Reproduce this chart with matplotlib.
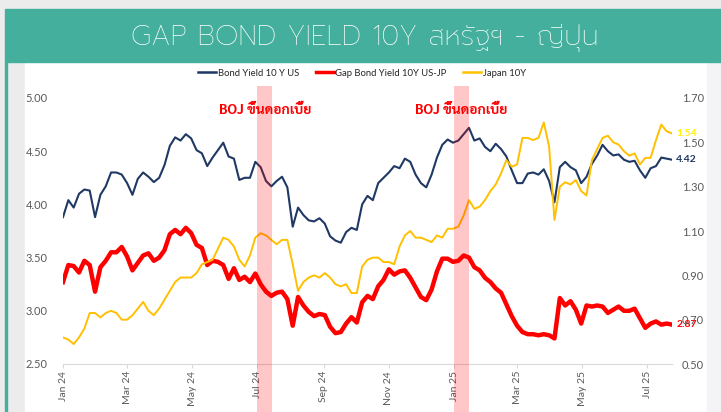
import matplotlib
matplotlib.use("Agg")
import matplotlib.pyplot as plt
import matplotlib.dates as mdates
from matplotlib.patches import Rectangle
from matplotlib.lines import Line2D
import pandas as pd

# sample dates, every 5 days from Jan 2024
dates = pd.date_range("2024-01-01", periods=115, freq="5D")

us10y = [3.88, 4.04, 3.97, 4.10, 4.14, 4.13, 3.88, 4.09, 4.17, 4.30,
         4.30, 4.28, 4.20, 4.09, 4.24, 4.30, 4.26, 4.21, 4.25, 4.37,
         4.55, 4.63, 4.60, 4.66, 4.62, 4.51, 4.48, 4.36, 4.44, 4.51,
         4.58, 4.45, 4.43, 4.23, 4.25, 4.25, 4.40, 4.35, 4.22, 4.17,
         4.22, 4.26, 4.16, 3.79, 3.97, 3.90, 3.85, 3.84, 3.87, 3.82,
         3.70, 3.66, 3.64, 3.74, 3.78, 3.76, 4.00, 4.08, 4.04, 4.20,
         4.25, 4.30, 4.36, 4.34, 4.43, 4.40, 4.28, 4.20, 4.16, 4.28,
         4.44, 4.56, 4.61, 4.58, 4.60, 4.66, 4.72, 4.60, 4.62, 4.54,
         4.50, 4.57, 4.52, 4.45, 4.32, 4.20, 4.20, 4.29, 4.30, 4.28,
         4.33, 4.22, 4.02, 4.35, 4.40, 4.35, 4.32, 4.20, 4.26, 4.38,
         4.46, 4.56, 4.50, 4.46, 4.47, 4.42, 4.40, 4.41, 4.32, 4.25,
         4.34, 4.36, 4.44, 4.43, 4.42]

jp10y = [0.62, 0.61, 0.59, 0.62, 0.66, 0.73, 0.73, 0.71, 0.73, 0.74,
         0.73, 0.70, 0.70, 0.72, 0.75, 0.78, 0.74, 0.72, 0.75, 0.79,
         0.83, 0.87, 0.89, 0.89, 0.89, 0.91, 0.95, 0.96, 0.97, 1.02,
         1.07, 1.06, 1.03, 0.97, 0.94, 0.99, 1.07, 1.09, 1.08, 1.06,
         1.04, 1.06, 1.06, 0.95, 0.83, 0.87, 0.89, 0.90, 0.89, 0.91,
         0.89, 0.86, 0.85, 0.86, 0.82, 0.82, 0.94, 0.97, 0.98, 0.98,
         0.96, 0.96, 0.95, 1.03, 1.08, 1.10, 1.07, 1.07, 1.06, 1.05,
         1.08, 1.07, 1.11, 1.11, 1.12, 1.17, 1.24, 1.20, 1.21, 1.24,
         1.28, 1.31, 1.36, 1.42, 1.39, 1.40, 1.52, 1.52, 1.51, 1.52,
         1.59, 1.48, 1.15, 1.30, 1.32, 1.31, 1.33, 1.28, 1.26, 1.42,
         1.47, 1.52, 1.53, 1.50, 1.49, 1.46, 1.44, 1.45, 1.40, 1.43,
         1.43, 1.51, 1.58, 1.55, 1.54]

gap = [3.27, 3.43, 3.42, 3.36, 3.47, 3.43, 3.18, 3.41, 3.47, 3.55,
       3.55, 3.60, 3.51, 3.38, 3.45, 3.52, 3.54, 3.47, 3.50, 3.57,
       3.72, 3.76, 3.72, 3.78, 3.73, 3.62, 3.59, 3.43, 3.47, 3.46,
       3.43, 3.30, 3.40, 3.29, 3.32, 3.27, 3.35, 3.25, 3.18, 3.14,
       3.17, 3.18, 3.11, 2.86, 3.13, 3.05, 2.99, 2.95, 2.97, 2.96,
       2.85, 2.79, 2.80, 2.88, 2.94, 2.89, 3.08, 3.14, 3.11, 3.23,
       3.29, 3.39, 3.34, 3.37, 3.38, 3.31, 3.22, 3.13, 3.10, 3.20,
       3.37, 3.49, 3.49, 3.46, 3.47, 3.52, 3.50, 3.41, 3.38, 3.31,
       3.27, 3.21, 3.17, 3.06, 2.95, 2.86, 2.80, 2.78, 2.78, 2.77,
       2.78, 2.77, 2.74, 3.12, 3.05, 3.09, 3.01, 2.88, 3.05, 3.04,
       3.05, 3.04, 2.98, 3.01, 3.04, 3.00, 3.00, 3.02, 2.93, 2.84,
       2.88, 2.90, 2.87, 2.88, 2.87]

boj_periods = [("2024-07-01", "2024-07-15"), ("2025-01-01", "2025-01-15")]
boj_label = "BOJ ขึ้นดอกเบี้ย"
title = "GAP BOND YIELD 10Y สหรัฐฯ - ญี่ปุ่น"

NAVY = "#1F3864"
RED = "#FF0000"
GOLD = "#FFC000"
TEAL = "#45AF9D"
TXT = "#595959"

plt.rcParams["font.family"] = ["Lato", "DejaVu Sans"]
thai_title = ["Prompt", "Kanit", "Athiti", "DejaVu Sans"]
thai_bold = ["Sarabun", "Athiti", "DejaVu Sans"]

fig = plt.figure(figsize=(7.21, 4.12), dpi=100, facecolor="#ECECEC")

# page background pieces (behind the axes)
def panel(x, y, w, h, c):
    fig.patches.append(Rectangle((x / 721, 1 - (y + h) / 412), w / 721, h / 412,
                                 transform=fig.transFigure, color=c, zorder=-2))

panel(25, 62, 682, 350, "white")
panel(707, 62, 14, 350, "#F4F4F6")
panel(5, 62, 2, 350, TEAL)
panel(5, 9, 716, 53, TEAL)
fig.text(365 / 721, 1 - 37 / 412, title, color="white", fontsize=20,
         family=thai_title, weight="light", ha="center", va="center")

ax = fig.add_axes([63 / 721, 1 - 364 / 412, 609 / 721, 266 / 412])
ax.set_facecolor("none")
ax2 = ax.twinx()

ax.plot(dates, us10y, color=NAVY, lw=1.5, label="Bond Yield 10 Y US")
ax.plot(dates, gap, color=RED, lw=3.2, label="Gap Bond Yield 10Y US-JP")
ax2.plot(dates, jp10y, color=GOLD, lw=1.4, label="Japan 10Y")

ax.set_xlim(pd.Timestamp("2024-01-01"), pd.Timestamp("2025-07-24"))
ax.set_ylim(2.5, 5.0)
ax2.set_ylim(0.5, 1.7)
ax.set_yticks([2.5, 3.0, 3.5, 4.0, 4.5, 5.0])
ax2.set_yticks([0.5, 0.7, 0.9, 1.1, 1.3, 1.5, 1.7])
ax.yaxis.set_major_formatter(matplotlib.ticker.FormatStrFormatter("%.2f"))
ax2.yaxis.set_major_formatter(matplotlib.ticker.FormatStrFormatter("%.2f"))

ax.xaxis.set_major_locator(mdates.MonthLocator(bymonth=[1, 3, 5, 7, 9, 11]))
ax.xaxis.set_major_formatter(mdates.DateFormatter("%b %y"))
for lbl in ax.get_xticklabels():
    lbl.set_rotation(90)

for a in (ax, ax2):
    for s in a.spines.values():
        s.set_visible(False)
ax.spines["bottom"].set_visible(True)
ax.spines["bottom"].set_color("#D9D9D9")
ax.tick_params(axis="x", length=3, color="#D9D9D9", labelsize=7.5, labelcolor=TXT, pad=2)
ax.tick_params(axis="y", length=0, labelsize=8, labelcolor=TXT, pad=11)
ax2.tick_params(axis="y", length=0, labelsize=8, labelcolor=TXT, pad=7)

# BOJ hike shading + labels
for start, end in boj_periods:
    d0, d1 = pd.Timestamp(start), pd.Timestamp(end)
    ax2.axvspan(d0, d1, ymin=-0.18, ymax=1.045, color=RED, alpha=0.22,
                lw=0, clip_on=False, zorder=5)
    mid = d0 + (d1 - d0) / 2
    ax2.text(mid, 0.955, boj_label, transform=ax2.get_xaxis_transform(),
             color=RED, fontsize=10, weight="bold", family=thai_bold,
             ha="center", va="center", zorder=6)

# end value labels
ax.annotate(f"{us10y[-1]:.2f}", (dates[-1], us10y[-1]), xytext=(3, 0),
            textcoords="offset points", color=NAVY, fontsize=7.5,
            weight="bold", va="center", ha="left", annotation_clip=False)
ax.annotate(f"{gap[-1]:.2f}", (dates[-1], gap[-1]), xytext=(3, 0),
            textcoords="offset points", color=RED, fontsize=7.5,
            weight="bold", va="center", ha="left", annotation_clip=False)
ax2.annotate(f"{jp10y[-1]:.2f}", (dates[-1], jp10y[-1]), xytext=(3, 0),
             textcoords="offset points", color="#FFF200", fontsize=7.5,
             weight="bold", va="center", ha="left", annotation_clip=False)

handles = [Line2D([], [], color=NAVY, lw=1.8),
           Line2D([], [], color=RED, lw=2.5),
           Line2D([], [], color=GOLD, lw=1.8)]
labels = ["Bond Yield 10 Y US", "Gap Bond Yield 10Y US-JP", "Japan 10Y"]
fig.legend(handles, labels, loc="center", bbox_to_anchor=(362 / 721, 1 - 73 / 412),
           ncol=3, frameon=False, fontsize=6.8, handlelength=1.9,
           handletextpad=0.15, columnspacing=1.8, labelcolor="#262626")

fig.savefig("out.png", dpi=100, facecolor=fig.get_facecolor())
